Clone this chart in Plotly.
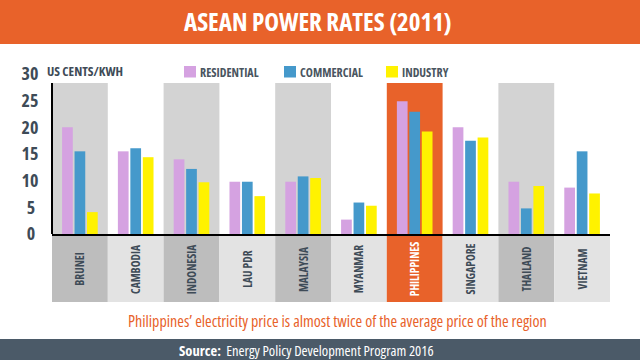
import plotly.graph_objects as go

countries = ["BRUNEI", "CAMBODIA", "INDONESIA", "LAU PDR", "MALAYSIA",
             "MYANMAR", "PHILIPPINES", "SINGAPORE", "THAILAND", "VIETNAM"]
residential = [20.0, 15.5, 14.0, 9.8, 9.8, 2.7, 24.9, 20.0, 9.8, 8.7]
commercial = [15.5, 16.1, 12.2, 9.8, 10.8, 5.9, 22.9, 17.5, 4.8, 15.5]
industry = [4.1, 14.4, 9.7, 7.1, 10.5, 5.3, 19.2, 18.1, 9.0, 7.6]
series_names = ["RESIDENTIAL", "COMMERCIAL", "INDUSTRY"]
y_ticks = [0, 5, 10, 15, 20, 25, 30]
highlight = "PHILIPPINES"

ORANGE = "#e8622a"
SLATE = "#3e4b57"
COLORS = ["#d5a2e1", "#4599cb", "#fff200"]
FONT = "Open Sans, sans-serif"

W, H = 640, 360
ML, MR, MT, MB = 52, 30, 74, 58
PW, PH = W - ML - MR, H - MT - MB


def px(x):
    return (x - ML) / PW


def py(y):
    return (H - MB - y) / PH


fig = go.Figure()
for name, vals, col in zip(series_names, [residential, commercial, industry], COLORS):
    fig.add_trace(go.Bar(x=countries, y=vals, name=name, marker_color=col,
                         marker_line_width=0, showlegend=False,
                         xaxis="x", yaxis="y"))

# category label boxes
box_cols = []
txt_cols = []
for i, c in enumerate(countries):
    if c == highlight:
        box_cols.append(ORANGE)
        txt_cols.append("white")
    elif i % 2 == 0:
        box_cols.append("#bdbdbd")
        txt_cols.append(SLATE)
    else:
        box_cols.append("#e3e3e3")
        txt_cols.append(SLATE)

fig.add_trace(go.Bar(x=countries, y=[1] * len(countries), width=1,
                     marker_color=box_cols, marker_line_width=0,
                     text=["<b>%s</b>" % c for c in countries],
                     textposition="inside", insidetextanchor="middle",
                     textangle=-90, constraintext="none",
                     textfont=dict(family=FONT, size=11.5, color=txt_cols),
                     hoverinfo="skip", showlegend=False,
                     xaxis="x", yaxis="y2"))

shapes = []
# background bands
for i, c in enumerate(countries):
    if c == highlight:
        fc = ORANGE
    elif i % 2 == 0:
        fc = "#d3d3d3"
    else:
        continue
    shapes.append(dict(type="rect", xref="x", yref="y", x0=i - 0.5, x1=i + 0.5,
                       y0=0, y1=28.3, fillcolor=fc, line_width=0, layer="below"))
# left axis line
shapes.append(dict(type="line", xref="paper", yref="y", x0=0, x1=0, y0=0, y1=28.3,
                   line=dict(color="black", width=2)))
# title bar
shapes.append(dict(type="rect", xref="paper", yref="paper", x0=px(0), x1=px(W),
                   y0=py(44), y1=py(0), fillcolor=ORANGE, line_width=0))
# source bar
shapes.append(dict(type="rect", xref="paper", yref="paper", x0=px(0), x1=px(W),
                   y0=py(360), y1=py(339), fillcolor="#4b5a68", line_width=0))


def ann(text, x, y, size, color, xanchor="center"):
    return dict(text=text, x=px(x), y=py(y), xref="paper", yref="paper",
                xanchor=xanchor, yanchor="middle", showarrow=False,
                font=dict(family=FONT, size=size, color=color))


annotations = [
    ann("<b>ASEAN POWER RATES (2011)</b>", 318, 21, 25, "white"),
    ann("<b>US CENTS/KWH</b>", 45, 71, 13, SLATE, "left"),
    ann("Philippines’ electricity price is almost twice of the average price of the region",
        337, 321, 16, ORANGE),
    ann("<b>Source:</b>  Energy Policy Development Program 2016", 306, 350, 14.5, "white"),
]

# manual legend
leg_x = [184, 284, 386]
for name, col, lx in zip(series_names, COLORS, leg_x):
    shapes.append(dict(type="rect", xref="paper", yref="paper",
                       x0=px(lx), x1=px(lx + 12), y0=py(77.5), y1=py(66),
                       fillcolor=col, line_width=0))
    annotations.append(ann("<b>%s</b>" % name, lx + 14, 72, 12, "#4a5560", "left"))

tick_text = [("%d" % t) + ("\u00a0" if t < 10 else "") for t in y_ticks]

fig.update_layout(
    width=W, height=H,
    margin=dict(l=ML, r=MR, t=MT, b=MB, pad=0),
    paper_bgcolor="white", plot_bgcolor="white",
    barmode="group", bargap=0.33, bargroupgap=0.14,
    shapes=shapes, annotations=annotations,
    xaxis=dict(range=[-0.5, 9.5], showticklabels=False, showgrid=False,
               showline=True, linecolor="black", linewidth=2, ticks="",
               zeroline=False, anchor="y", fixedrange=True),
    yaxis=dict(domain=[py(234), 1], range=[0, 30], tickvals=y_ticks,
               ticktext=tick_text, showgrid=False, zeroline=False,
               showline=False, ticks="outside", ticklen=9,
               tickcolor="rgba(0,0,0,0)",
               tickfont=dict(family=FONT, size=18, color=SLATE, weight="bold"),
               fixedrange=True),
    yaxis2=dict(domain=[0, py(236)], range=[0, 1], visible=False,
                fixedrange=True),
    showlegend=False,
)

fig.write_html("out.html", config={"displayModeBar": False, "staticPlot": True})
html = open("out.html", encoding="utf-8").read()
css = "<style>body{margin:0;padding:0;overflow:hidden}text{font-stretch:75%}</style>"
html = html.replace("<head>", "<head>" + css, 1)
open("out.html", "w", encoding="utf-8").write(html)
